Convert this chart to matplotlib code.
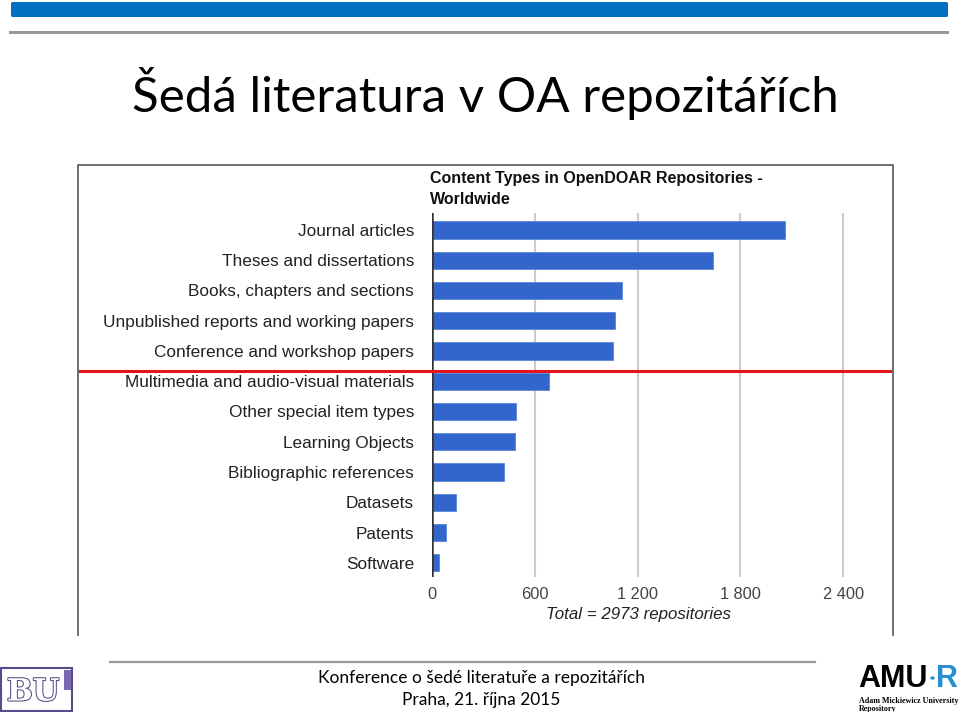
import matplotlib
matplotlib.use("Agg")
import matplotlib.pyplot as plt
import matplotlib.patheffects as pe
from matplotlib.lines import Line2D
from matplotlib.patches import Rectangle, FancyBboxPatch, Circle

# data
kategorie = [
    "Journal articles",
    "Theses and dissertations",
    "Books, chapters and sections",
    "Unpublished reports and working papers",
    "Conference and workshop papers",
    "Multimedia and audio-visual materials",
    "Other special item types",
    "Learning Objects",
    "Bibliographic references",
    "Datasets",
    "Patents",
    "Software",
]
pocty = [2062, 1637, 1110, 1069, 1054, 684, 492, 486, 420, 140, 84, 43]
xticks = [0, 600, 1200, 1800, 2400]
xtick_labels = ["0", "600", "1 200", "1 800", "2 400"]

W, H = 960, 712


def fx(x):
    return x / W


def fy(y):
    return 1 - y / H


fig = plt.figure(figsize=(9.6, 7.12), dpi=100)
fig.patch.set_facecolor("white")

# horni modry pruh + seda linka
fig.add_artist(FancyBboxPatch((fx(11), fy(17)), fx(948) - fx(11), fy(2) - fy(17),
                              boxstyle="round,pad=0,rounding_size=0.002",
                              transform=fig.transFigure, color="#0070C0", lw=0))
fig.add_artist(Line2D([fx(10), fx(947)], [fy(32), fy(32)], color="#999999", lw=2.2))

# nadpis
fig.text(fx(485), fy(94), "Šedá literatura v OA repozitářích", fontsize=35.5,
         family="Lato", ha="center", va="center", color="black")

# ramecek obrazku
fig.add_artist(Line2D([fx(78), fx(78), fx(893), fx(893)],
                      [fy(635), fy(165), fy(165), fy(635)], color="#555555", lw=1.2))

# graf
ax = fig.add_axes([fx(432), fy(577), fx(869) - fx(432), fy(213) - fy(577)])
y = list(range(len(kategorie)))
ax.barh(y, pocty, height=0.57, color="#3366CC", edgecolor="#5a85d8", lw=0.6, zorder=3)
ax.set_ylim(11.47, -0.56)
ax.set_xlim(0, 2550)
ax.set_yticks(y)
ax.set_yticklabels(kategorie, family="Liberation Sans", fontsize=12.4, color="#222222")
ax.set_xticks(xticks)
ax.set_xticklabels(xtick_labels, family="Liberation Sans", fontsize=11.8, color="#444444")
ax.tick_params(axis="y", length=0, pad=13)
ax.tick_params(axis="x", length=0, pad=7)
for s in ax.spines.values():
    s.set_visible(False)
for t in xticks[1:]:
    ax.axvline(t, color="#cccccc", lw=1.5, zorder=1)
ax.axvline(0, color="#333333", lw=1.8, zorder=4)

fig.text(fx(430), fy(179), "Content Types in OpenDOAR Repositories -", fontsize=11.5,
         family="Liberation Sans", weight="bold", va="center", ha="left", color="#111111")
fig.text(fx(430), fy(199), "Worldwide", fontsize=11.5,
         family="Liberation Sans", weight="bold", va="center", ha="left", color="#111111")
fig.text(fx(638), fy(615), "Total = 2973 repositories", fontsize=12.2,
         family="Liberation Sans", style="italic", va="center", ha="center", color="#222222")

# cervena cara
fig.add_artist(Line2D([fx(80), fx(890)], [fy(371), fy(371)], color="#E3141B", lw=2.2))

# paticka
fig.add_artist(Line2D([fx(110), fx(815)], [fy(662), fy(662)], color="#999999", lw=1.6))
fig.text(fx(481), fy(678), "Konference o šedé literatuře a repozitářích", fontsize=12.5,
         family="Lato", ha="center", va="center")
fig.text(fx(481), fy(700), "Praha, 21. října 2015", fontsize=12.5,
         family="Lato", ha="center", va="center")

# logo BU
fig.add_artist(Rectangle((fx(1), fy(711)), fx(72) - fx(1), fy(668) - fy(711),
                         transform=fig.transFigure, fill=False, ec="#5b4a8c", lw=1.5))
fig.text(fx(33), fy(692), "BU", fontsize=22, family="DejaVu Serif", ha="center", va="center",
         color="white", weight="bold",
         path_effects=[pe.withStroke(linewidth=1.5, foreground="#5b4a8c")])
fig.add_artist(Rectangle((fx(64), fy(690)), fx(71) - fx(64), fy(670) - fy(690),
                         transform=fig.transFigure, color="#7a68b0", lw=0))

# logo AMU-R
fig.text(fx(858), fy(687), "AMU", fontsize=22, family="Liberation Sans", weight="bold",
         ha="left", va="baseline", color="black")
fig.add_artist(Circle((fx(932.5), fy(678)), 0.0024, transform=fig.transFigure,
                      color="#2a8fd0", lw=0))
fig.text(fx(936), fy(687), "R", fontsize=22, family="Liberation Sans", weight="bold",
         ha="left", va="baseline", color="#2a8fd0")
fig.text(fx(859), fy(701), "Adam Mickiewicz University", fontsize=5.8,
         family="Liberation Serif", weight="bold", ha="left", va="center")
fig.text(fx(859), fy(709), "Repository", fontsize=5.8, family="Liberation Serif",
         weight="bold", ha="left", va="center")

fig.savefig("out.png", dpi=100)
